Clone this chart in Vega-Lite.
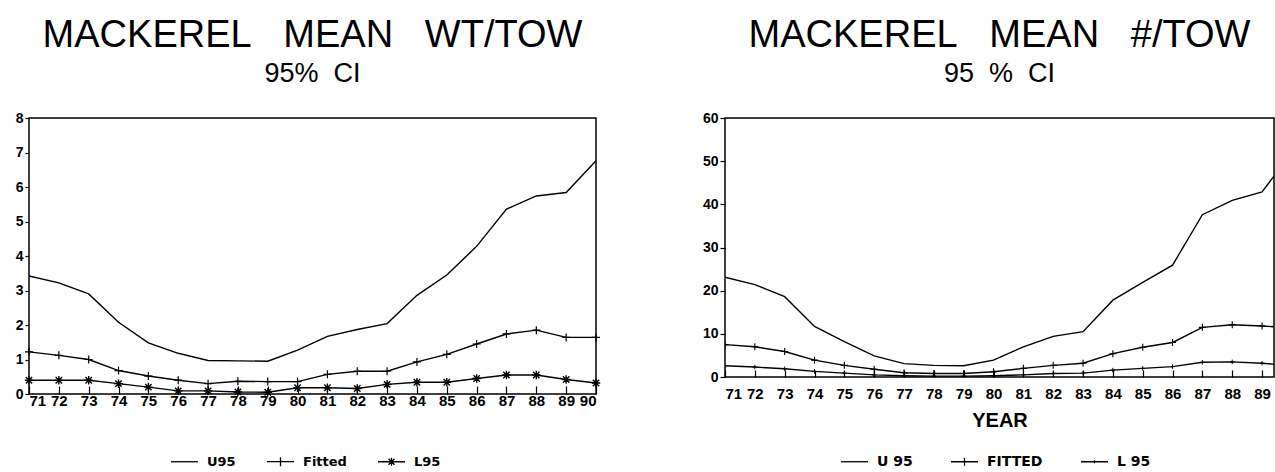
{
"$schema": "https://vega.github.io/schema/vega-lite/v6.json",
"background": "white",
"padding": {"left": 14, "top": 16, "right": 0, "bottom": 0},
"config": {
  "view": {"stroke": "black", "strokeWidth": 1.5},
  "font": "Liberation Sans",
  "axis": {"domain": false, "grid": false, "labelFont": "Liberation Sans", "labelFontWeight": "bold", "labelFontSize": 14, "labelColor": "black", "tickColor": "black", "tickWidth": 1.2, "titleColor": "black", "titleFont": "Liberation Sans"},
  "title": {"font": "Liberation Sans", "fontSize": 38, "fontWeight": "normal", "color": "black", "subtitleFont": "Liberation Sans", "subtitleFontSize": 27, "subtitleColor": "black", "subtitlePadding": 6, "offset": 24, "anchor": "middle"},
  "legend": {"title": null, "direction": "horizontal", "orient": "none", "symbolStrokeColor": "black", "symbolStrokeWidth": 1.3, "symbolOpacity": 1, "symbolSize": 729, "labelFont": "DejaVu Sans", "labelFontWeight": "bold", "labelColor": "black", "labelOffset": 8, "columnPadding": 28, "padding": 0}
},
"datasets": {
  "wt": [
    {"year":71,"series":"U95","value":3.42},{"year":72,"series":"U95","value":3.22},{"year":73,"series":"U95","value":2.9},{"year":74,"series":"U95","value":2.08},{"year":75,"series":"U95","value":1.48},{"year":76,"series":"U95","value":1.18},{"year":77,"series":"U95","value":0.97},{"year":78,"series":"U95","value":0.96},{"year":79,"series":"U95","value":0.95},{"year":80,"series":"U95","value":1.27},{"year":81,"series":"U95","value":1.67},{"year":82,"series":"U95","value":1.87},{"year":83,"series":"U95","value":2.04},{"year":84,"series":"U95","value":2.86},{"year":85,"series":"U95","value":3.45},{"year":86,"series":"U95","value":4.28},{"year":87,"series":"U95","value":5.36},{"year":88,"series":"U95","value":5.74},{"year":89,"series":"U95","value":5.84},{"year":90,"series":"U95","value":6.76},
    {"year":71,"series":"Fitted","value":1.22},{"year":72,"series":"Fitted","value":1.12},{"year":73,"series":"Fitted","value":1.0},{"year":74,"series":"Fitted","value":0.68},{"year":75,"series":"Fitted","value":0.52},{"year":76,"series":"Fitted","value":0.4},{"year":77,"series":"Fitted","value":0.3},{"year":78,"series":"Fitted","value":0.37},{"year":79,"series":"Fitted","value":0.36},{"year":80,"series":"Fitted","value":0.36},{"year":81,"series":"Fitted","value":0.57},{"year":82,"series":"Fitted","value":0.66},{"year":83,"series":"Fitted","value":0.66},{"year":84,"series":"Fitted","value":0.93},{"year":85,"series":"Fitted","value":1.15},{"year":86,"series":"Fitted","value":1.45},{"year":87,"series":"Fitted","value":1.74},{"year":88,"series":"Fitted","value":1.85},{"year":89,"series":"Fitted","value":1.64},{"year":90,"series":"Fitted","value":1.64},
    {"year":71,"series":"L95","value":0.4},{"year":72,"series":"L95","value":0.4},{"year":73,"series":"L95","value":0.4},{"year":74,"series":"L95","value":0.3},{"year":75,"series":"L95","value":0.2},{"year":76,"series":"L95","value":0.09},{"year":77,"series":"L95","value":0.09},{"year":78,"series":"L95","value":0.06},{"year":79,"series":"L95","value":0.05},{"year":80,"series":"L95","value":0.18},{"year":81,"series":"L95","value":0.18},{"year":82,"series":"L95","value":0.16},{"year":83,"series":"L95","value":0.28},{"year":84,"series":"L95","value":0.34},{"year":85,"series":"L95","value":0.34},{"year":86,"series":"L95","value":0.45},{"year":87,"series":"L95","value":0.55},{"year":88,"series":"L95","value":0.55},{"year":89,"series":"L95","value":0.42},{"year":90,"series":"L95","value":0.32}
  ],
  "num": [
    {"year":71,"series":"U 95","value":23.1},{"year":72,"series":"U 95","value":21.4},{"year":73,"series":"U 95","value":18.6},{"year":74,"series":"U 95","value":11.7},{"year":75,"series":"U 95","value":8.2},{"year":76,"series":"U 95","value":4.9},{"year":77,"series":"U 95","value":3.1},{"year":78,"series":"U 95","value":2.7},{"year":79,"series":"U 95","value":2.6},{"year":80,"series":"U 95","value":3.9},{"year":81,"series":"U 95","value":7.0},{"year":82,"series":"U 95","value":9.4},{"year":83,"series":"U 95","value":10.5},{"year":84,"series":"U 95","value":17.8},{"year":85,"series":"U 95","value":21.9},{"year":86,"series":"U 95","value":25.9},{"year":87,"series":"U 95","value":37.6},{"year":88,"series":"U 95","value":40.9},{"year":89,"series":"U 95","value":42.9},{"year":90,"series":"U 95","value":52},
    {"year":71,"series":"FITTED","value":7.5},{"year":72,"series":"FITTED","value":7.0},{"year":73,"series":"FITTED","value":5.9},{"year":74,"series":"FITTED","value":3.9},{"year":75,"series":"FITTED","value":2.7},{"year":76,"series":"FITTED","value":1.8},{"year":77,"series":"FITTED","value":1.0},{"year":78,"series":"FITTED","value":0.8},{"year":79,"series":"FITTED","value":0.8},{"year":80,"series":"FITTED","value":1.2},{"year":81,"series":"FITTED","value":2.0},{"year":82,"series":"FITTED","value":2.7},{"year":83,"series":"FITTED","value":3.2},{"year":84,"series":"FITTED","value":5.4},{"year":85,"series":"FITTED","value":6.9},{"year":86,"series":"FITTED","value":8.0},{"year":87,"series":"FITTED","value":11.5},{"year":88,"series":"FITTED","value":12.1},{"year":89,"series":"FITTED","value":11.8},{"year":90,"series":"FITTED","value":11.4},
    {"year":71,"series":"L 95","value":2.6},{"year":72,"series":"L 95","value":2.3},{"year":73,"series":"L 95","value":1.9},{"year":74,"series":"L 95","value":1.3},{"year":75,"series":"L 95","value":0.9},{"year":76,"series":"L 95","value":0.5},{"year":77,"series":"L 95","value":0.3},{"year":78,"series":"L 95","value":0.2},{"year":79,"series":"L 95","value":0.2},{"year":80,"series":"L 95","value":0.3},{"year":81,"series":"L 95","value":0.5},{"year":82,"series":"L 95","value":0.8},{"year":83,"series":"L 95","value":0.9},{"year":84,"series":"L 95","value":1.6},{"year":85,"series":"L 95","value":2.0},{"year":86,"series":"L 95","value":2.4},{"year":87,"series":"L 95","value":3.4},{"year":88,"series":"L 95","value":3.5},{"year":89,"series":"L 95","value":3.2},{"year":90,"series":"L 95","value":2.6}
  ]
},
"spacing": 129,
"bounds": "flush",
"resolve": {"scale": {"shape": "independent", "x": "independent", "y": "independent"}, "legend": {"shape": "independent"}},
"hconcat": [
  {
    "width": 567, "height": 276,
    "title": {"text": "MACKEREL\u00a0\u00a0\u00a0MEAN\u00a0\u00a0\u00a0WT/TOW", "subtitle": "95%\u00a0\u00a0CI"},
    "data": {"name": "wt"},
    "encoding": {
      "x": {"field": "year", "type": "quantitative", "scale": {"domain": [71, 90], "nice": false, "zero": false}, "axis": {"values": [71,72,73,74,75,76,77,78,79,80,81,82,83,84,85,86,87,88,89,90], "format": "d", "title": null, "tickSize": -8, "labelPadding": 7, "labelFontSize": 15}},
      "y": {"field": "value", "type": "quantitative", "scale": {"domain": [0, 8], "nice": false}, "axis": {"values": [0,1,2,3,4,5,6,7,8], "title": null, "tickSize": 4, "labelPadding": 2}}
    },
    "layer": [
      {"mark": {"type": "line", "color": "black", "strokeWidth": 1.4}, "encoding": {"detail": {"field": "series"}}},
      {"transform": [{"filter": "datum.series === 'Fitted'"}],
       "mark": {"type": "point", "filled": false, "color": "black", "strokeWidth": 1.2, "size": 64, "opacity": 1, "shape": "M-1,0H1M0,-1V1"}},
      {"transform": [{"filter": "datum.series === 'L95'"}],
       "mark": {"type": "point", "filled": false, "color": "black", "strokeWidth": 1.4, "size": 72, "opacity": 1, "shape": "M-1,0H1M0,-1V1M-0.75,-0.75L0.75,0.75M-0.75,0.75L0.75,-0.75"}},
      {"mark": {"type": "point", "filled": false, "color": "black", "strokeWidth": 1.3, "size": 0, "opacity": 1},
       "encoding": {"shape": {"field": "series", "type": "nominal",
         "scale": {"domain": ["U95", "Fitted", "L95"], "range": ["M-1,0H1", "M-1,0H1M0,-0.33V0.33", "M-1,0H1M0,-0.3V0.3M-0.22,-0.22L0.22,0.22M-0.22,0.22L0.22,-0.22"]},
         "legend": {"legendX": 141, "legendY": 329, "labelFontSize": 13}}}}
    ]
  },
  {
    "width": 549, "height": 259,
    "title": {"text": "MACKEREL\u00a0\u00a0\u00a0MEAN\u00a0\u00a0\u00a0#/TOW", "subtitle": "95\u00a0\u00a0%\u00a0\u00a0CI"},
    "data": {"name": "num"},
    "encoding": {
      "x": {"field": "year", "type": "quantitative", "scale": {"domain": [71, 89.4], "nice": false, "zero": false}, "axis": {"values": [71,72,73,74,75,76,77,78,79,80,81,82,83,84,85,86,87,88,89], "format": "d", "title": "YEAR", "titleFontSize": 20, "titleFontWeight": "bold", "titlePadding": 9, "tickSize": -7, "labelPadding": 16, "labelFontSize": 15}},
      "y": {"field": "value", "type": "quantitative", "scale": {"domain": [0, 60], "nice": false}, "axis": {"values": [0,10,20,30,40,50,60], "title": null, "tickSize": 5, "labelPadding": 2}}
    },
    "layer": [
      {"mark": {"type": "line", "color": "black", "strokeWidth": 1.4, "clip": true}, "encoding": {"detail": {"field": "series"}}},
      {"transform": [{"filter": "datum.series === 'FITTED'"}],
       "mark": {"type": "point", "filled": false, "color": "black", "strokeWidth": 1.1, "size": 49, "opacity": 1, "clip": true, "shape": "M-1,0H1M0,-1V1"}},
      {"transform": [{"filter": "datum.series === 'L 95'"}],
       "mark": {"type": "point", "filled": false, "color": "black", "strokeWidth": 1.0, "size": 20, "opacity": 1, "clip": true, "shape": "M-1,0H1M0,-1V1"}},
      {"mark": {"type": "point", "filled": false, "color": "black", "strokeWidth": 1.3, "size": 0, "opacity": 1},
       "encoding": {"shape": {"field": "series", "type": "nominal",
         "scale": {"domain": ["U 95", "FITTED", "L 95"], "range": ["M-1,0H1", "M-1,0H1M0,-0.3V0.3", "M-1,0H1M0,-0.12V0.12"]},
         "legend": {"legendX": 115, "legendY": 329, "labelFontSize": 14, "columnPadding": 35}}}}
    ]
  }
]
}
